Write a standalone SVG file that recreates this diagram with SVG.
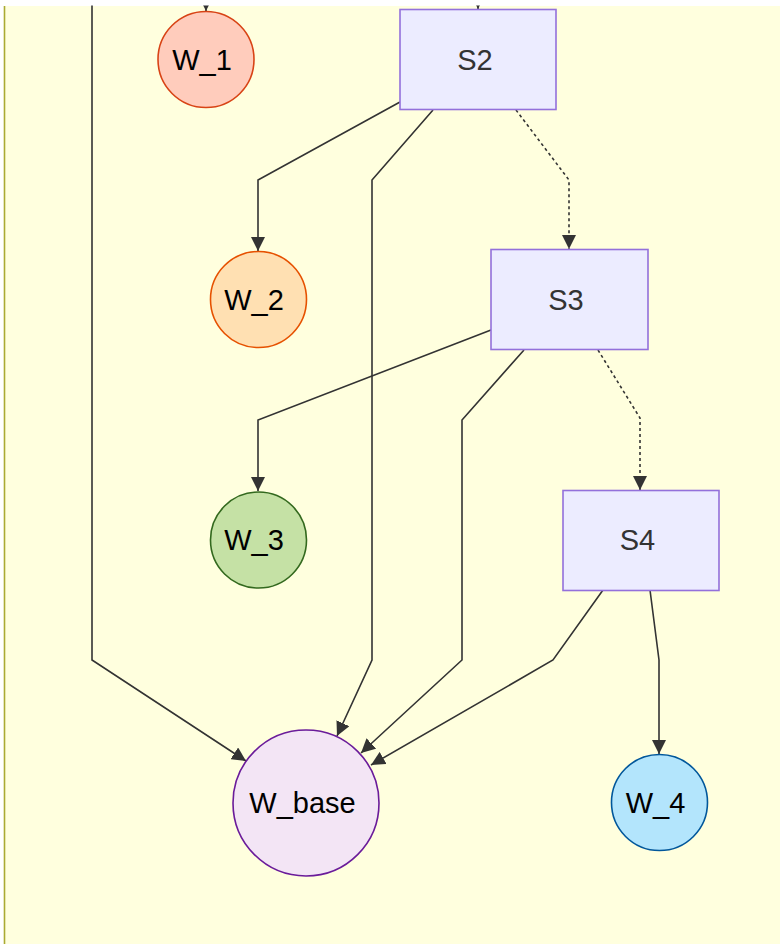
<svg xmlns="http://www.w3.org/2000/svg" width="780" height="944" viewBox="0 0 780 944">
  <style>
    .edge { fill: none; stroke: #333333; stroke-width: 1.6; }
    .dotted { stroke-dasharray: 3 3; }
    .state rect { fill: #ececff; stroke: #9370db; stroke-width: 1.6; }
    .state text { fill: #333333; }
    .w circle { stroke-width: 1.6; }
    text { font-family: "Liberation Sans", Arial, sans-serif; font-size: 29px; text-anchor: middle; fill: #000000; }
  </style>
  <defs>
    <marker id="arrow" viewBox="0 0 10 10" refX="10" refY="5" markerUnits="userSpaceOnUse" markerWidth="14" markerHeight="14" orient="auto">
      <path d="M0,0 L10,5 L0,10 z" fill="#333333"/>
    </marker>
  </defs>

  <!-- page and cluster background -->
  <rect x="0" y="0" width="780" height="944" fill="#ffffff"/>
  <rect x="5" y="6" width="780" height="940" fill="#ffffde"/>
  <line x1="4.5" y1="6" x2="4.5" y2="944" stroke="#aaaa33" stroke-width="1.6"/>

  <!-- connectors -->
  <g id="edges">
    <path class="edge" d="M92,-10 L92,660 L246,761" marker-end="url(#arrow)"/>
    <path class="edge" d="M206,-10 L206,11" marker-end="url(#arrow)"/>
    <path class="edge" d="M478,-10 L478,9" marker-end="url(#arrow)"/>
    <path class="edge" d="M400,102 L258,180 L258,251" marker-end="url(#arrow)"/>
    <path class="edge" d="M433,110 L372,180 L372,660 L337,736" marker-end="url(#arrow)"/>
    <path class="edge dotted" d="M516,110 L569,180 L569,249" marker-end="url(#arrow)"/>
    <path class="edge" d="M491,330 L258,420 L258,491" marker-end="url(#arrow)"/>
    <path class="edge" d="M524,350 L462,420 L462,660 L361,753" marker-end="url(#arrow)"/>
    <path class="edge dotted" d="M598,350 L640,418 L640,490" marker-end="url(#arrow)"/>
    <path class="edge" d="M603,590 L553,660 L371,765" marker-end="url(#arrow)"/>
    <path class="edge" d="M650,590 L659,660 L659,754" marker-end="url(#arrow)"/>
  </g>

  <!-- nodes -->
  <g id="W_1" class="w">
    <circle cx="206" cy="59.5" r="48" fill="#ffccbc" stroke="#d84315"/>
    <text x="202" y="69.5">W_1</text>
  </g>
  <g id="S2" class="state">
    <rect x="400" y="9.5" width="156" height="100"/>
    <text x="475" y="69.5">S2</text>
  </g>
  <g id="W_2" class="w">
    <circle cx="258.5" cy="299.5" r="48" fill="#ffe0b2" stroke="#e65100"/>
    <text x="254" y="309.5">W_2</text>
  </g>
  <g id="S3" class="state">
    <rect x="491" y="249.5" width="157" height="100"/>
    <text x="566" y="309.5">S3</text>
  </g>
  <g id="W_3" class="w">
    <circle cx="258.5" cy="540" r="48" fill="#c5e1a5" stroke="#33691e"/>
    <text x="254" y="550">W_3</text>
  </g>
  <g id="S4" class="state">
    <rect x="563" y="490.5" width="156" height="100"/>
    <text x="637.5" y="550">S4</text>
  </g>
  <g id="W_base" class="w">
    <circle cx="306" cy="803" r="73" fill="#f3e5f5" stroke="#6a1b9a"/>
    <text x="302.5" y="813">W_base</text>
  </g>
  <g id="W_4" class="w">
    <circle cx="659.5" cy="802.5" r="48" fill="#b3e5fc" stroke="#01579b"/>
    <text x="655.5" y="812.5">W_4</text>
  </g>

  <!-- top margin strip -->
  <rect x="0" y="0" width="780" height="5.5" fill="#ffffff"/>
</svg>
